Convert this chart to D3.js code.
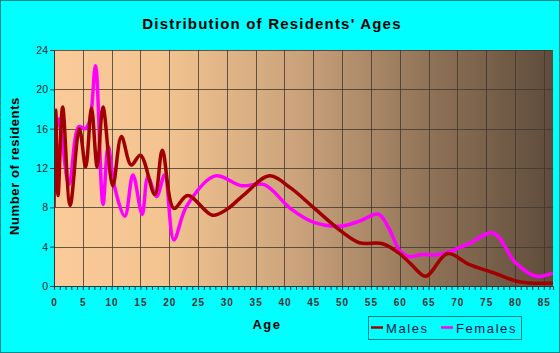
<!DOCTYPE html>
<html>
<head>
<meta charset="utf-8">
<script src="https://cdn.jsdelivr.net/npm/d3@7"></script>
<style>
  body { margin: 0; background: #00ffff; }
  text { font-family: "Liberation Sans", Arial, sans-serif; }
</style>
</head>
<body>
<div id="chart"></div>
<script>
// Values: age (years) and number of residents
const maleAges   = [0, 0.3, 0.7, 1.5, 2.8, 4.4, 5.5, 6.5, 7.5, 8.5, 10.2, 11.7, 13.4, 15, 17.5, 18.8, 20.8, 23.2, 27.5, 30, 33, 37.4, 41, 45, 50, 53, 57, 60, 62, 64.5, 68.3, 72, 76, 81, 86.6];
const maleValues = [8, 17.9, 9.2, 18.2, 8.2, 16, 12.1, 18.1, 12.1, 18.2, 10.2, 15.2, 12.3, 13.3, 9.3, 13.8, 7.9, 9.2, 7.2, 7.8, 9.3, 11.2, 10, 8, 5.5, 4.4, 4.3, 3.3, 2.2, 1.0, 3.3, 2.2, 1.4, 0.4, 0.3];

const femaleAges   = [0, 0.8, 2.6, 4.3, 5.4, 6.2, 7.2, 8.5, 9.4, 10.5, 12.3, 13.7, 15.3, 16.3, 17.8, 19.2, 20.8, 23, 28, 32.5, 36.5, 41, 45, 50, 53, 56.3, 58, 60, 61.5, 64, 67, 72, 76.2, 80.2, 83.7, 86.6];
const femaleValues = [13, 17, 10.3, 16.2, 16, 16.8, 22.4, 8.3, 14.2, 10.1, 7.1, 11.3, 7.3, 11.1, 9.1, 11.3, 4.7, 8.1, 11.2, 10.2, 10.3, 7.9, 6.5, 6.1, 6.6, 7.3, 6, 3.6, 3.0, 3.2, 3.2, 4.3, 5.4, 2.3, 1.0, 1.3];

const yTicks = [0, 4, 8, 12, 16, 20, 24];
const xTicks = d3.range(0, 86, 5);
const seriesNames = ["Males", "Females"];
const seriesColors = ["#a00000", "#ff00ff"];

const width = 560, height = 353;
const plot = {left: 54, top: 50, right: 553, bottom: 286};

const svg = d3.select("#chart").append("svg")
    .attr("width", width)
    .attr("height", height);

// outer frame
svg.append("rect")
    .attr("x", 0.5).attr("y", 0.5)
    .attr("width", width - 1).attr("height", height - 1)
    .attr("fill", "#00ffff")
    .attr("stroke", "#008b8b");

const x = d3.scaleLinear().domain([0, 86.6]).range([plot.left, plot.right]);
const y = d3.scaleLinear().domain([0, 24]).range([plot.bottom, plot.top]);

// plot background gradient
const grad = svg.append("defs").append("linearGradient")
    .attr("id", "bg").attr("x1", "0%").attr("x2", "100%");
grad.append("stop").attr("offset", "0%").attr("stop-color", "#facb99");
grad.append("stop").attr("offset", "22%").attr("stop-color", "#f3c490");
grad.append("stop").attr("offset", "50%").attr("stop-color", "#c9a17a");
grad.append("stop").attr("offset", "75%").attr("stop-color", "#907358");
grad.append("stop").attr("offset", "100%").attr("stop-color", "#5f4c3b");

svg.append("rect")
    .attr("x", plot.left).attr("y", plot.top)
    .attr("width", plot.right - plot.left)
    .attr("height", plot.bottom - plot.top)
    .attr("fill", "url(#bg)");

// gridlines
const grid = svg.append("g").attr("stroke", "#40382f").attr("stroke-opacity", 0.8);
grid.selectAll(".hg")
  .data(yTicks.slice(1))
  .enter().append("line")
    .attr("x1", plot.left).attr("x2", plot.right)
    .attr("y1", d => Math.round(y(d)) + 0.5).attr("y2", d => Math.round(y(d)) + 0.5);
grid.selectAll(".vg")
  .data(xTicks.slice(1))
  .enter().append("line")
    .attr("y1", plot.top).attr("y2", plot.bottom)
    .attr("x1", d => Math.round(x(d)) + 0.5).attr("x2", d => Math.round(x(d)) + 0.5);

// lines
const line = d3.line()
    .x(d => x(d[0]))
    .y(d => y(d[1]))
    .curve(d3.curveCatmullRom.alpha(0.5));

const series = [
  d3.zip(maleAges, maleValues),
  d3.zip(femaleAges, femaleValues)
];

svg.append("clipPath").attr("id", "clip")
  .append("rect")
    .attr("x", plot.left).attr("y", plot.top - 5)
    .attr("width", plot.right - plot.left)
    .attr("height", plot.bottom - plot.top + 5);

// females drawn under males
[1, 0].forEach(i => {
  svg.append("path")
      .attr("clip-path", "url(#clip)")
      .attr("d", line(series[i]))
      .attr("fill", "none")
      .attr("stroke", seriesColors[i])
      .attr("stroke-width", 3.5)
      .attr("stroke-linejoin", "round");
});

// axes
const yAxis = svg.append("g")
    .attr("transform", `translate(${plot.left},0)`)
    .call(d3.axisLeft(y).tickValues(yTicks).tickSize(4).tickPadding(2));
const xAxis = svg.append("g")
    .attr("transform", `translate(0,${plot.bottom})`)
    .call(d3.axisBottom(x).tickValues(d3.range(0, 87, 1)).tickSize(4)
      .tickFormat(d => d % 5 === 0 ? d : ""));

[yAxis, xAxis].forEach(a => {
  a.select(".domain").attr("stroke", "#333");
  a.selectAll(".tick line").attr("stroke", "#333");
  a.selectAll("text")
      .attr("fill", "#222")
      .style("font-size", "10.5px");
});
xAxis.selectAll("text")
    .attr("dy", "1.3em")
    .style("font-size", "10px")
    .style("letter-spacing", "1px")
    .style("font-weight", "bold")
    .attr("fill", "#333");

// title and axis titles
svg.append("text")
    .attr("x", 272).attr("y", 29)
    .attr("text-anchor", "middle")
    .style("font-size", "15px")
    .style("font-weight", "bold")
    .style("letter-spacing", "1.2px")
    .text("Distribution of Residents' Ages");

svg.append("text")
    .attr("transform", "translate(19,166) rotate(-90)")
    .attr("text-anchor", "middle")
    .style("font-size", "13px")
    .style("font-weight", "bold")
    .style("letter-spacing", "0.6px")
    .text("Number of residents");

svg.append("text")
    .attr("x", 267).attr("y", 329)
    .attr("text-anchor", "middle")
    .style("font-size", "13px")
    .style("font-weight", "bold")
    .style("letter-spacing", "1.5px")
    .text("Age");

// legend
const legend = svg.append("g");
legend.append("rect")
    .attr("x", 368.5).attr("y", 316.5)
    .attr("width", 153).attr("height", 23)
    .attr("fill", "none")
    .attr("stroke", "#008080");
const legendX = [371, 441];
seriesNames.forEach((name, i) => {
  legend.append("line")
      .attr("x1", legendX[i]).attr("x2", legendX[i] + 12)
      .attr("y1", 327.5).attr("y2", 327.5)
      .attr("stroke", seriesColors[i])
      .attr("stroke-width", 2.5);
  legend.append("text")
      .attr("x", legendX[i] + 15).attr("y", 332.5)
      .style("font-size", "13px")
      .style("letter-spacing", "1.6px")
      .attr("fill", "#114")
      .text(name);
});
</script>
</body>
</html>
